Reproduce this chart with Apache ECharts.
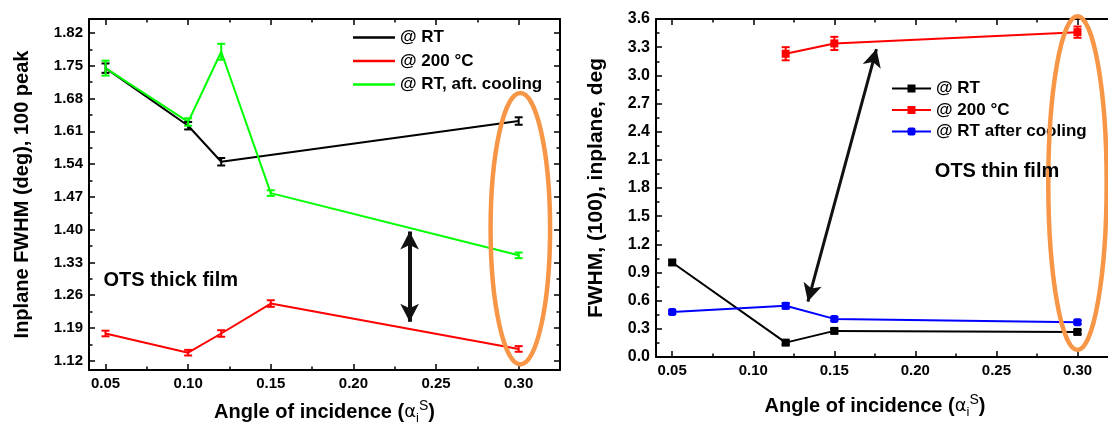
<!DOCTYPE html>
<html>
<head>
  <meta charset="UTF-8">
  <style>
    html, body { margin: 0; padding: 0; background: #fff; overflow: hidden; }
  </style>
  <script src="https://cdn.jsdelivr.net/npm/echarts@6/dist/echarts.min.js"></script>
</head>
<body>
  <!-- a bit wider than the window: the right panel runs past the picture edge -->
  <div id="chart" style="width: 1122px; height:423px;"></div>
  <script>
    // ---- thick film (left panel) ----
    const rtThickX = [0.05, 0.10, 0.12, 0.30];
    const rtThickY = [1.745, 1.622, 1.545, 1.632];
    const rtThickErr = [0.010, 0.008, 0.008, 0.008];

    const hotThickX = [0.05, 0.10, 0.12, 0.15, 0.30];
    const hotThickY = [1.178, 1.137, 1.178, 1.242, 1.145];
    const hotThickErr = [0.006, 0.006, 0.007, 0.007, 0.006];

    const coolThickX = [0.05, 0.10, 0.12, 0.15, 0.30];
    const coolThickY = [1.745, 1.630, 1.780, 1.478, 1.345];
    const coolThickErr = [0.016, 0.008, 0.017, 0.006, 0.006];

    // ---- thin film (right panel) ----
    const rtThinX = [0.05, 0.12, 0.15, 0.30];
    const rtThinY = [1.007, 0.153, 0.278, 0.267];
    const rtThinErr = [0.02, 0.02, 0.02, 0.02];

    const hotThinX = [0.12, 0.15, 0.30];
    const hotThinY = [3.23, 3.34, 3.46];
    const hotThinErr = [0.07, 0.07, 0.06];

    const coolThinX = [0.05, 0.12, 0.15, 0.30];
    const coolThinY = [0.478, 0.545, 0.406, 0.371];
    const coolThinErr = [0.02, 0.03, 0.02, 0.02];

    // ---- tick labels ----
    const xTicks = [0.05, 0.10, 0.15, 0.20, 0.25, 0.30];
    const xMinor = [0.075, 0.125, 0.175, 0.225, 0.275];
    const yThickTicks = [1.12, 1.19, 1.26, 1.33, 1.40, 1.47, 1.54, 1.61, 1.68, 1.75, 1.82];
    const yThickMinor = [1.155, 1.225, 1.295, 1.365, 1.435, 1.505, 1.575, 1.645, 1.715, 1.785];
    const yThinTicks = [0.0, 0.3, 0.6, 0.9, 1.2, 1.5, 1.8, 2.1, 2.4, 2.7, 3.0, 3.3, 3.6];
    const yThinMinor = [0.15, 0.45, 0.75, 1.05, 1.35, 1.65, 1.95, 2.25, 2.55, 2.85, 3.15, 3.45];

    // annotations (data coords)
    const thickArrow = [[0.234, 1.396], [0.234, 1.203]];
    const thinArrow = [[0.1337, 0.59], [0.176, 3.28]];
    const thickEllipse = { x: 0.301, xHalf: 0.018, yLow: 1.112, yHigh: 1.692 };
    const thinEllipse = { x: 0.300, xHalf: 0.018, yLow: 0.075, yHigh: 3.63 };

    const FONT = 'Liberation Sans';

    function zip(xs, ys, es) {
      return xs.map((x, i) => es ? [x, ys[i], es[i]] : [x, ys[i]]);
    }

    // bottom/left axis with labels + opposite frame axis, each with a minor tick twin
    function frameAxes(grid, isX, min, max, major, minor, fmt, labelSize, extra) {
      const base = {
        type: 'value', gridIndex: grid, min: min, max: max,
        splitLine: { show: false }
      };
      const pos = isX ? ['bottom', 'top'] : ['left', 'right'];
      const out = [];
      pos.forEach((p, k) => {
        out.push(Object.assign({}, base, {
          position: p,
          axisLine: { show: true, onZero: false, lineStyle: { color: '#000', width: 2 } },
          axisTick: { show: true, inside: true, length: 6, customValues: major, lineStyle: { color: '#000', width: 1.5 } },
          axisLabel: k === 0 ? {
            show: true, customValues: major, formatter: fmt, margin: 6,
            color: '#000', fontFamily: FONT, fontWeight: 'bold', fontSize: labelSize
          } : { show: false }
        }, k === 0 ? extra : {}));
        out.push(Object.assign({}, base, {
          position: p,
          axisLine: { show: false, onZero: false },
          axisTick: { show: true, inside: true, length: 3.5, customValues: minor, lineStyle: { color: '#000', width: 1.5 } },
          axisLabel: { show: false }
        }));
      });
      return out;
    }

    const xName = '{t|Angle of incidence (}{a|α}{i|i}{s|S}{t|)}';
    const xNameRich = {
      t: { fontFamily: FONT, fontWeight: 'bold', fontSize: 20, lineHeight: 26, verticalAlign: 'middle' },
      a: { fontFamily: 'DejaVu Sans', fontWeight: 'normal', fontSize: 18, lineHeight: 26, verticalAlign: 'middle' },
      i: { fontFamily: FONT, fontWeight: 'normal', fontSize: 13, lineHeight: 12, verticalAlign: 'bottom' },
      s: { fontFamily: FONT, fontWeight: 'normal', fontSize: 14, lineHeight: 13, verticalAlign: 'top' }
    };
    const xNameStyle = (padRight) => ({
      color: '#000', fontFamily: FONT, fontWeight: 'bold', fontSize: 20,
      padding: [0, padRight, 0, 0], rich: xNameRich
    });

    const fmt2 = v => v.toFixed(2);
    const fmt1 = v => v.toFixed(1);

    const xAxes = [].concat(
      frameAxes(0, true, 0.04, 0.325, xTicks, xMinor, fmt2, 15,
        { name: xName, nameLocation: 'middle', nameGap: 29, nameTextStyle: xNameStyle(0) }),
      frameAxes(1, true, 0.04, 0.325, xTicks, xMinor, fmt2, 15,
        { name: xName, nameLocation: 'middle', nameGap: 36, nameTextStyle: xNameStyle(24) })
    );
    const yAxes = [].concat(
      frameAxes(0, false, 1.10, 1.85, yThickTicks, yThickMinor, fmt2, 15,
        { name: 'Inplane FWHM (deg), 100 peak', nameLocation: 'middle', nameGap: 57,
          nameTextStyle: { color: '#000', fontFamily: FONT, fontWeight: 'bold', fontSize: 20 } }),
      frameAxes(1, false, 0, 3.6, yThinTicks, yThinMinor, fmt1, 16,
        { name: 'FWHM, (100), inplane, deg', nameLocation: 'middle', nameGap: 49,
          nameTextStyle: { color: '#000', fontFamily: FONT, fontWeight: 'bold', fontSize: 21 } })
    );

    function errorBars(xi, yi, color, data) {
      return {
        type: 'custom', xAxisIndex: xi, yAxisIndex: yi, z: 5, silent: true,
        data: data,
        renderItem: function (params, api) {
          const x = api.value(0), y = api.value(1), e = api.value(2);
          const top = api.coord([x, y + e]);
          const bot = api.coord([x, y - e]);
          const w = 4;
          const st = { stroke: color, lineWidth: 2 };
          return {
            type: 'group',
            children: [
              { type: 'line', shape: { x1: top[0], y1: top[1], x2: bot[0], y2: bot[1] }, style: st },
              { type: 'line', shape: { x1: top[0] - w, y1: top[1], x2: top[0] + w, y2: top[1] }, style: st },
              { type: 'line', shape: { x1: bot[0] - w, y1: bot[1], x2: bot[0] + w, y2: bot[1] }, style: st }
            ]
          };
        }
      };
    }

    function arrowLine(pts, width) {
      return {
        silent: true,
        symbol: ['arrow', 'arrow'],
        symbolSize: [14, 18],
        label: { show: false },
        lineStyle: { color: '#111', width: width, type: 'solid' },
        data: [[{ coord: pts[0] }, { coord: pts[1] }]]
      };
    }

    const thickLine = (name, color, xs, ys, extra) => Object.assign({
      name: name, type: 'line', xAxisIndex: 0, yAxisIndex: 0,
      symbol: 'none', data: zip(xs, ys),
      lineStyle: { color: color, width: 2 }, itemStyle: { color: color }
    }, extra || {});

    const thinLine = (name, color, symbol, xs, ys, extra) => Object.assign({
      name: name, type: 'line', xAxisIndex: 4, yAxisIndex: 4,
      symbol: symbol, symbolSize: 8, data: zip(xs, ys),
      lineStyle: { color: color, width: 2 }, itemStyle: { color: color }
    }, extra || {});

    const legendText = { color: '#000', fontFamily: FONT, fontWeight: 'bold', fontSize: 17 };

    const myChart = echarts.init(document.getElementById('chart'));
    const options = {
      animation: false,
      grid: [
        { left: 89, top: 19, width: 471, height: 351, outerBoundsMode: 'none' },
        { left: 656, top: 19, width: 462, height: 338, outerBoundsMode: 'none' }
      ],
      legend: [
        {
          orient: 'vertical', left: 353, top: 29, padding: 0,
          icon: 'rect', itemWidth: 42, itemHeight: 2.5, itemGap: 6.5,
          textStyle: legendText,
          data: ['@ RT', '@ 200 °C', '@ RT, aft. cooling']
        },
        {
          orient: 'vertical', left: 891, top: 80, padding: 0,
          itemWidth: 39, itemHeight: 10, itemGap: 4.5,
          textStyle: legendText,
          data: ['@ RT ', '@ 200 °C ', '@ RT after cooling']
        }
      ],
      xAxis: xAxes,
      yAxis: yAxes,
      series: [
        thickLine('@ RT', '#000000', rtThickX, rtThickY),
        thickLine('@ 200 °C', '#ff0000', hotThickX, hotThickY, { markLine: arrowLine(thickArrow, 4) }),
        thickLine('@ RT, aft. cooling', '#00ff00', coolThickX, coolThickY),
        errorBars(0, 0, '#000000', zip(rtThickX, rtThickY, rtThickErr)),
        errorBars(0, 0, '#ff0000', zip(hotThickX, hotThickY, hotThickErr)),
        errorBars(0, 0, '#00ff00', zip(coolThickX, coolThickY, coolThickErr)),

        thinLine('@ RT ', '#000000', 'rect', rtThinX, rtThinY),
        thinLine('@ 200 °C ', '#ff0000', 'rect', hotThinX, hotThinY, { markLine: arrowLine(thinArrow, 3) }),
        thinLine('@ RT after cooling', '#0000ff', 'roundRect', coolThinX, coolThinY),
        errorBars(4, 4, '#000000', zip(rtThinX, rtThinY, rtThinErr)),
        errorBars(4, 4, '#ff0000', zip(hotThinX, hotThinY, hotThinErr)),
        errorBars(4, 4, '#0000ff', zip(coolThinX, coolThinY, coolThinErr))
      ]
    };
    myChart.setOption(options);

    // orange ellipses and panel captions placed from data coords
    function ellipseFor(gridIndex, e) {
      const c = myChart.convertToPixel({ gridIndex: gridIndex }, [e.x, (e.yLow + e.yHigh) / 2]);
      const r = myChart.convertToPixel({ gridIndex: gridIndex }, [e.x + e.xHalf, e.yHigh]);
      const b = myChart.convertToPixel({ gridIndex: gridIndex }, [e.x, e.yLow]);
      return {
        type: 'ellipse', z: 10, silent: true,
        shape: { cx: c[0], cy: c[1], rx: r[0] - c[0], ry: (b[1] - r[1]) / 2 },
        style: { fill: 'none', stroke: '#f79646', lineWidth: 4.5 }
      };
    }
    function caption(gridIndex, at, text, size) {
      const p = myChart.convertToPixel({ gridIndex: gridIndex }, at);
      return {
        type: 'text', x: p[0], y: p[1], z: 10, silent: true,
        style: { text: text, fill: '#000', font: 'bold ' + size + 'px "' + FONT + '"', textVerticalAlign: 'middle' }
      };
    }
    myChart.setOption({
      graphic: [
        ellipseFor(0, thickEllipse),
        ellipseFor(1, thinEllipse),
        caption(0, [0.0488, 1.292], 'OTS thick film', 20),
        caption(1, [0.212, 1.98], 'OTS thin film', 20)
      ]
    });
  </script>
</body>
</html>
